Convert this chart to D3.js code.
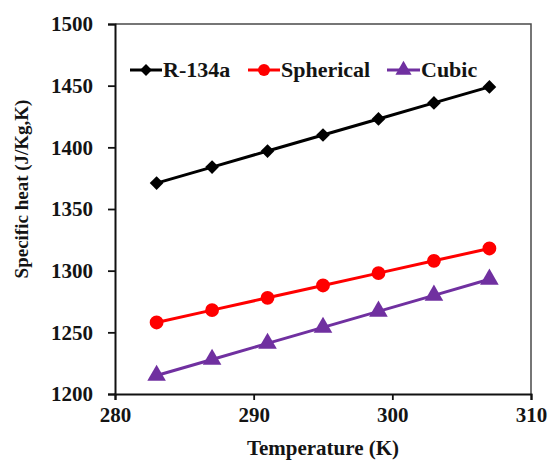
<!DOCTYPE html>
<html>
<head>
<meta charset="utf-8">
<script src="https://cdn.jsdelivr.net/npm/d3@7"></script>
<style>
  html, body { margin: 0; padding: 0; background: #fff; }
  svg { display: block; }
  text { font-family: "Liberation Serif", "Times New Roman", serif; font-weight: bold; fill: #141414; }
</style>
</head>
<body>
<script>
const temperatures = [283, 287, 291, 295, 299, 303, 307];
const r134a = [1371, 1384, 1397, 1410, 1423, 1436, 1449];
const spherical = [1258, 1268, 1278, 1288, 1298, 1308, 1318];
const cubic = [1215, 1228, 1241, 1254, 1267, 1280, 1293];
const xTicks = [280, 290, 300, 310];
const yTicks = [1200, 1250, 1300, 1350, 1400, 1450, 1500];
const seriesNames = ["R-134a", "Spherical", "Cubic"];

const W = 549, H = 461;
const pLeft = 115, pRight = 531, pTop = 24, pBottom = 394;

const svg = d3.select("body").append("svg").attr("width", W).attr("height", H);

const x = d3.scaleLinear().domain([280, 310]).range([pLeft, pRight]);
const y = d3.scaleLinear().domain([1200, 1500]).range([pBottom, pTop]);

// frame (top & right)
svg.append("path")
  .attr("d", `M${pLeft},${pTop}H${pRight}V${pBottom}`)
  .attr("fill", "none").attr("stroke", "#4a4a4a").attr("stroke-width", 1.5);

// axes
const xAxis = svg.append("g").attr("transform", `translate(0,${pBottom})`)
  .call(d3.axisBottom(x).tickValues(xTicks).tickSize(6).tickPadding(6).tickFormat(d3.format("d")));
const yAxis = svg.append("g").attr("transform", `translate(${pLeft},0)`)
  .call(d3.axisLeft(y).tickValues(yTicks).tickSize(7).tickPadding(15).tickFormat(d3.format("d")));
[xAxis, yAxis].forEach(a => {
  a.select(".domain").attr("stroke", "#111").attr("stroke-width", 2);
  a.selectAll(".tick line").attr("stroke", "#111").attr("stroke-width", 1.8);
  a.selectAll(".tick text").style("font-family", "'Liberation Serif', serif")
    .style("font-weight", "bold").style("font-size", "21px").attr("fill", "#141414");
});
xAxis.selectAll(".tick text").attr("dy", "0.75em");

// axis titles
svg.append("text").attr("x", 323).attr("y", 455)
  .attr("text-anchor", "middle").style("font-size", "21px").text("Temperature (K)");
svg.append("text").attr("transform", `translate(28,189) rotate(-90)`)
  .attr("text-anchor", "middle").style("font-size", "19px").text("Specific heat (J/Kg,K)");

const series = [
  { name: seriesNames[0], values: r134a, color: "#000000", symbol: d3.symbolDiamond2, size: 120 },
  { name: seriesNames[1], values: spherical, color: "#ff0000", symbol: d3.symbolCircle, size: 150 },
  { name: seriesNames[2], values: cubic, color: "#7030a0", symbol: d3.symbolTriangle, size: 150 }
];

const line = d3.line().x(d => x(d[0])).y(d => y(d[1]));

series.forEach(s => {
  const pts = temperatures.map((t, i) => [t, s.values[i]]);
  svg.append("path").datum(pts).attr("d", line)
    .attr("fill", "none").attr("stroke", s.color).attr("stroke-width", 3);
  svg.selectAll(null).data(pts).enter().append("path")
    .attr("transform", d => `translate(${x(d[0])},${y(d[1])})`)
    .attr("d", d3.symbol().type(s.symbol).size(s.size))
    .attr("fill", s.color);
});

// legend
const legendY = 70;
const legendItems = [
  { x0: 130, x1: 162, tx: 163 },
  { x0: 248, x1: 280, tx: 281 },
  { x0: 387, x1: 420, tx: 421 }
];
series.forEach((s, i) => {
  const L = legendItems[i];
  const g = svg.append("g");
  g.append("line").attr("x1", L.x0).attr("x2", L.x1).attr("y1", legendY).attr("y2", legendY)
    .attr("stroke", s.color).attr("stroke-width", 3);
  g.append("path").attr("transform", `translate(${(L.x0 + L.x1) / 2},${legendY})`)
    .attr("d", d3.symbol().type(s.symbol).size(s.size * 0.75)).attr("fill", s.color);
  g.append("text").attr("x", L.tx).attr("y", legendY + 7).style("font-size", "22px").text(s.name);
});
</script>
</body>
</html>
